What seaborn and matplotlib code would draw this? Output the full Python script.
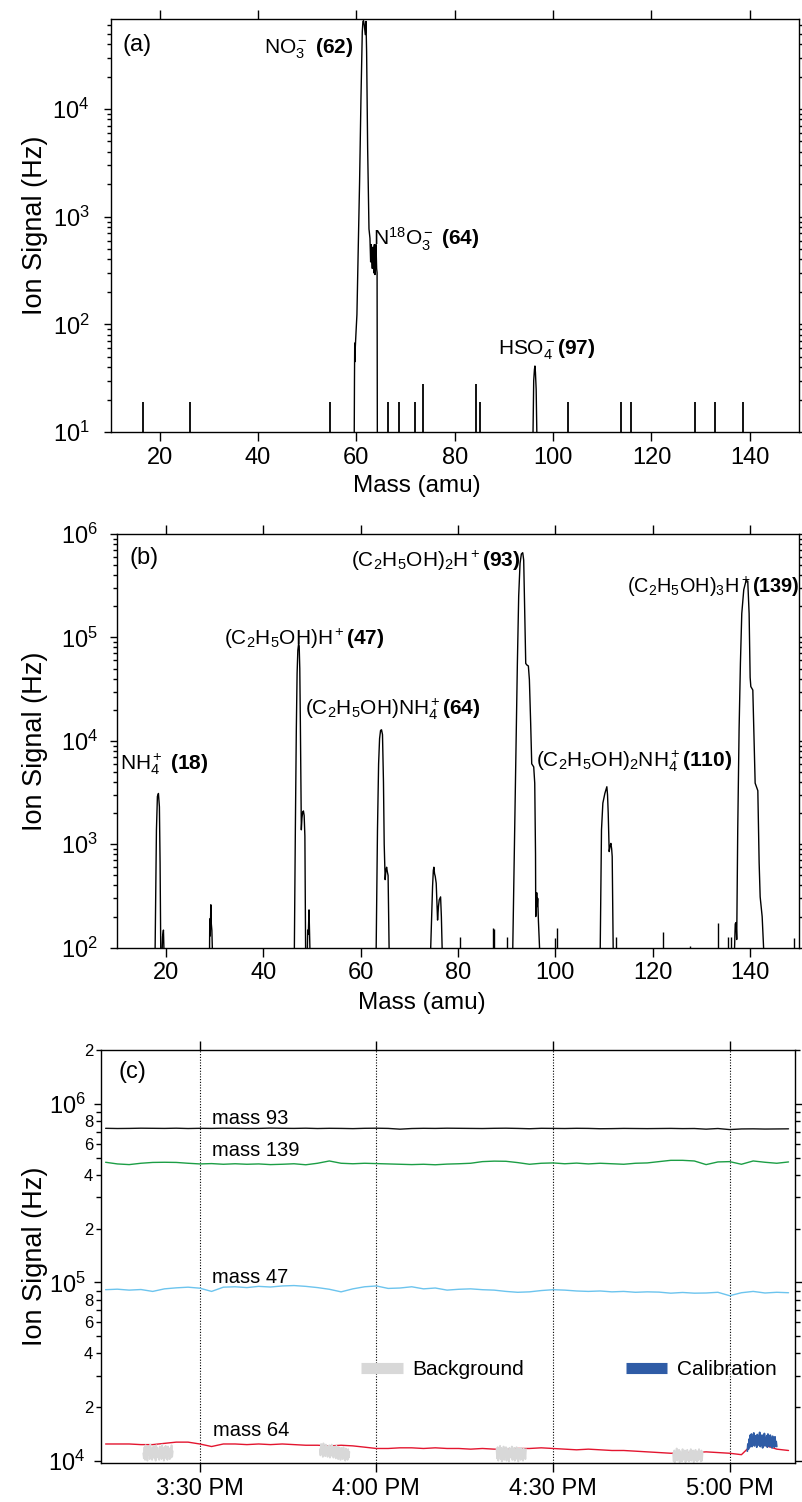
import numpy as np
import pandas as pd
import matplotlib
matplotlib.use("Agg")
import matplotlib.pyplot as plt
import matplotlib.dates as mdates
import matplotlib.ticker as mticker
from matplotlib.lines import Line2D
import seaborn as sns

# ---------------- Panel (a): negative-ion spectrum ----------------
mass_a = [59.55, 59.6, 59.65, 59.7, 59.76, 59.89, 60.1, 60.37, 60.64, 60.92, 61.19, 61.32,
          61.45, 61.6, 61.8, 61.94, 62.07, 62.28, 62.55, 62.75, 62.89, 63.02, 63.1, 63.23,
          63.35, 63.43, 63.55, 63.64, 63.77, 63.9, 63.98, 64.11, 64.2, 64.25,
          95.9, 96.05, 96.2, 96.3, 96.4, 96.55, 96.7]
signal_a = [9, 30, 67, 45, 60, 80, 123, 515, 2100, 12500, 52000, 65000,
            66000, 60000, 49000, 65000, 34000, 4300, 770, 630, 380, 550, 420, 330,
            520, 500, 300, 550, 290, 520, 550, 330, 300, 9,
            9, 30, 38, 41, 36, 25, 9]
stick_mass_a = [16.55, 26.17, 54.7, 66.4, 68.6, 71.95, 73.6, 84.4, 85.1, 103.0, 113.8,
                115.75, 128.9, 132.9, 138.7]
stick_height_a = [19, 19, 19, 19, 19, 19, 28, 28, 19, 19, 19, 19, 19, 19, 19]
base_a = 9

# ---------------- Panel (b): positive-ion spectrum ----------------
mass_b = [17.76, 18.04, 18.24, 18.45, 18.65, 18.79, 18.93,
          19.2, 19.3, 19.48, 19.6,
          28.95, 29.0, 29.1, 29.22, 29.32, 29.43, 29.55,
          46.38, 46.59, 46.79, 46.95, 47.1, 47.25, 47.38, 47.5, 47.62, 47.75, 47.82, 47.95,
          48.1, 48.25, 48.4, 48.55, 48.7,
          49.05, 49.13, 49.25, 49.4, 49.5, 49.6,
          63.19, 63.47, 63.7, 63.9, 64.1, 64.3, 64.5, 64.7, 64.85, 65.05, 65.2, 65.35, 65.5,
          65.65, 65.87,
          74.38, 74.6, 74.79, 74.95, 75.06, 75.2, 75.34, 75.54, 75.65, 75.82, 76.0, 76.16,
          76.3, 76.44, 76.6, 76.78,
          91.26, 91.67, 92.01, 92.22, 92.49, 92.77, 93.04, 93.32, 93.52, 93.73, 93.94, 94.2,
          94.48, 94.69, 94.95, 95.17, 95.58, 95.79, 95.95, 96.0, 96.2, 96.3, 96.4, 96.55, 96.82,
          109.24, 109.51, 109.79, 110.2, 110.45, 110.61, 110.75, 110.89, 111.09, 111.25,
          111.44, 111.6, 111.71, 111.92,
          136.83, 137.0, 137.17, 137.3, 137.51, 137.79, 138.06, 138.34, 138.75, 139.23,
          139.57, 139.85, 140.06, 140.2, 140.61, 140.81, 141.09, 141.64, 141.91, 142.12,
          142.32, 142.53, 142.87]
signal_b = [90, 1380, 2900, 3100, 2300, 660, 90,
            90, 128, 148, 90,
            90, 190, 130, 260, 170, 148, 90,
            90, 1380, 13000, 45000, 75000, 86000, 82000, 50000, 15000, 3000, 1380, 1800,
            2050, 2100, 1900, 1200, 90,
            90, 148, 135, 232, 150, 90,
            90, 1380, 6000, 10500, 12600, 12800, 11500, 4000, 1000, 455, 560, 600, 540,
            500, 90,
            90, 200, 390, 560, 600, 520, 490, 420, 300, 185, 250, 290,
            300, 310, 200, 90,
            90, 1380, 13000, 56000, 250000, 520000, 640000, 660000, 560000, 170000, 56000, 54000,
            53000, 39000, 15000, 6000, 5600, 3900, 800, 200, 340, 250, 300, 180, 90,
            90, 1380, 2500, 3100, 3400, 3600, 3000, 2000, 850, 950,
            1020, 900, 760, 90,
            90, 170, 175, 120, 1380, 13000, 56000, 170000, 290000, 355000,
            350000, 170000, 41000, 33500, 31000, 13000, 3900, 3300, 660, 310,
            250, 200, 90]
stick_mass_b = [80.35, 87.3, 87.45, 90.16, 100.05, 100.46, 112.47, 122.2, 127.6, 133.53,
                135.6, 136.1, 149.0]
stick_height_b = [128, 155, 150, 128, 125, 155, 128, 143, 105, 173, 128, 128, 125]
base_b = 90

# ---------------- Panel (c): time series ----------------
t_minutes = list(range(14, 131, 2))  # minutes after 15:00
mass93 = [7.32, 7.30, 7.31, 7.33, 7.32, 7.31, 7.33, 7.30, 7.32, 7.31,
          7.33, 7.32, 7.30, 7.31, 7.34, 7.32, 7.31, 7.33, 7.30, 7.32,
          7.31, 7.29, 7.32, 7.33, 7.31, 7.24, 7.30, 7.32, 7.31, 7.33,
          7.32, 7.31, 7.30, 7.32, 7.33, 7.31, 7.28, 7.32, 7.31, 7.30,
          7.32, 7.31, 7.28, 7.29, 7.31, 7.30, 7.29, 7.30, 7.31, 7.29,
          7.30, 7.24, 7.30, 7.20, 7.26, 7.27, 7.25, 7.26, 7.27]
mass139 = [4.72, 4.62, 4.58, 4.66, 4.71, 4.72, 4.71, 4.66, 4.62, 4.64,
           4.60, 4.63, 4.60, 4.62, 4.58, 4.60, 4.63, 4.57, 4.66, 4.80,
           4.66, 4.63, 4.66, 4.64, 4.62, 4.60, 4.58, 4.60, 4.57, 4.61,
           4.63, 4.66, 4.76, 4.79, 4.78, 4.70, 4.60, 4.66, 4.68, 4.63,
           4.67, 4.62, 4.66, 4.63, 4.60, 4.66, 4.68, 4.76, 4.84, 4.84,
           4.80, 4.58, 4.74, 4.76, 4.60, 4.80, 4.72, 4.66, 4.74]
mass47 = [9.10, 9.16, 9.05, 9.12, 8.90, 9.20, 9.32, 9.40, 9.28, 8.90,
          9.40, 9.45, 9.35, 9.50, 9.42, 9.55, 9.60, 9.50, 9.35, 9.15,
          8.85, 9.20, 9.45, 9.55, 9.25, 9.30, 9.45, 9.20, 9.30, 9.05,
          9.15, 9.20, 9.10, 9.05, 8.90, 8.80, 8.85, 9.00, 9.10, 9.05,
          8.95, 8.90, 8.95, 8.85, 8.90, 8.80, 8.85, 8.82, 8.70, 8.78,
          8.70, 8.72, 8.80, 8.42, 8.75, 8.90, 8.72, 8.80, 8.75]
mass64 = [1.24, 1.24, 1.24, 1.23, 1.23, 1.25, 1.27, 1.27, 1.24, 1.20,
          1.24, 1.24, 1.23, 1.24, 1.23, 1.24, 1.23, 1.22, 1.22, 1.21,
          1.22, 1.21, 1.19, 1.17, 1.17, 1.18, 1.18, 1.17, 1.18, 1.17,
          1.17, 1.16, 1.17, 1.16, 1.16, 1.17, 1.17, 1.18, 1.17, 1.16,
          1.15, 1.16, 1.15, 1.14, 1.14, 1.13, 1.12, 1.11, 1.10, 1.10,
          1.11, 1.12, 1.11, 1.10, 1.08, 1.25, 1.22, 1.16, 1.14]

bg_starts = [20.4, 50.4, 80.4, 110.4]      # minutes after 15:00
bg_values = [
    [11.0, 10.3, 11.9, 10.1, 12.2, 10.6, 11.4, 10.0, 12.0, 10.8,
     11.7, 10.2, 12.3, 10.5, 11.6, 10.1, 11.9, 10.7, 12.1, 10.3,
     11.5, 10.0, 12.2, 10.6, 11.8, 10.4, 11.3, 10.1, 12.0, 10.8,
     11.6, 10.2, 12.3, 10.5, 11.4, 10.0, 11.9, 10.7, 12.1, 10.3,
     11.7, 10.1, 12.0, 10.6, 11.5, 10.2, 11.8, 10.4, 12.2, 10.5, 11.3],
    [11.6, 10.7, 12.4, 10.9, 12.0, 10.5, 12.5, 11.1, 11.8, 10.6,
     12.3, 10.9, 12.1, 10.5, 11.9, 11.0, 12.2, 10.4, 11.6, 10.8,
     12.3, 10.6, 11.8, 10.4, 12.0, 11.0, 11.5, 10.3, 12.1, 10.7,
     11.7, 10.2, 11.9, 10.6, 11.4, 10.1, 11.8, 10.5, 11.6, 10.2,
     11.9, 10.4, 11.3, 10.0, 11.7, 10.3, 11.5, 10.1, 11.6, 10.4, 11.2],
    [11.7, 10.3, 11.9, 10.0, 11.5, 10.6, 12.1, 10.2, 11.8, 9.9,
     11.6, 10.7, 12.0, 10.1, 11.4, 10.5, 11.9, 10.0, 11.7, 10.6,
     11.3, 9.9, 11.8, 10.4, 11.6, 10.5, 12.0, 10.1, 11.5, 10.3,
     11.8, 10.0, 11.4, 10.6, 11.9, 10.2, 11.6, 9.9, 11.7, 10.4,
     11.3, 10.1, 11.8, 10.5, 11.5, 10.0, 11.7, 10.3, 11.4, 10.2, 11.6],
    [10.9, 9.9, 11.4, 9.8, 11.2, 10.3, 11.7, 10.0, 11.1, 10.2,
     11.5, 9.8, 11.3, 10.4, 11.0, 9.9, 11.6, 10.1, 11.1, 10.3,
     11.4, 9.8, 11.2, 10.0, 11.5, 10.2, 10.9, 9.9, 11.3, 10.1,
     11.6, 10.0, 11.1, 10.3, 11.4, 9.8, 11.2, 10.2, 11.5, 10.0,
     11.0, 9.9, 11.3, 10.1, 11.6, 10.2, 11.1, 9.9, 11.4, 10.0, 11.2],
]
cal_start = 123.0
cal_values = [11.3, 12.4, 11.6, 13.2, 11.9, 13.9, 12.2, 14.1, 12.0, 13.6,
              12.5, 14.3, 12.1, 13.8, 12.4, 13.5, 11.9, 14.0, 12.6, 13.7,
              12.2, 14.4, 12.0, 13.3, 12.3, 13.9, 11.8, 13.6, 12.5, 14.2,
              12.1, 13.4, 12.4, 13.8, 11.9, 14.1, 12.3, 13.5, 12.0, 13.9,
              12.2, 13.3, 11.8, 13.7, 12.4, 13.1, 11.9, 13.6, 12.1, 12.8, 12.0]
noise_step_min = 0.1

series_labels = ["mass 93", "mass 139", "mass 47", "mass 64"]
series_colors = ["#111111", "#1c9e45", "#6cc4ee", "#e3152f"]
bg_color = "#d8d8d8"
cal_color = "#2f5ca6"

# ---------------- style ----------------
sns.set_theme(style="ticks")
plt.rcParams.update({
    "font.family": ["Liberation Sans", "DejaVu Sans"],
    "mathtext.fontset": "custom",
    "mathtext.rm": "Liberation Sans",
    "mathtext.it": "Liberation Sans:italic",
    "mathtext.bf": "Liberation Sans:bold",
    "mathtext.sf": "Liberation Sans",
    "axes.edgecolor": "black",
    "axes.linewidth": 1.0,
    "xtick.color": "black",
    "ytick.color": "black",
    "text.color": "black",
    "axes.labelcolor": "black",
})

fig = plt.figure(figsize=(8.03, 15.02), dpi=100)
axA = fig.add_axes([0.1377, 0.71238, 0.8573, 0.27477])
axB = fig.add_axes([0.1461, 0.36904, 0.8483, 0.27543])
axC = fig.add_axes([0.12565, 0.02597, 0.86439, 0.27463])

ANN = 15


def common_ticks(ax, ypad=10):
    ax.tick_params(axis="both", which="both", direction="out", top=True, right=True,
                   labeltop=False, labelright=False, width=1)
    ax.tick_params(axis="x", which="major", length=6.5, labelsize=17, pad=4)
    ax.tick_params(axis="y", which="major", length=5, labelsize=17, pad=ypad)
    ax.tick_params(axis="y", which="minor", length=3)


def spectrum_axis(ax, ylim, ypad):
    ax.set_yscale("log")
    ax.set_xlim(10, 150)
    ax.set_ylim(*ylim)
    ax.xaxis.set_major_locator(mticker.MultipleLocator(20))
    ax.xaxis.set_minor_locator(mticker.NullLocator())
    ax.yaxis.set_major_locator(mticker.LogLocator(base=10, numticks=12))
    ax.yaxis.set_minor_locator(mticker.LogLocator(base=10, subs=np.arange(2, 10), numticks=12))
    ax.yaxis.set_minor_formatter(mticker.NullFormatter())
    common_ticks(ax, ypad)
    ax.set_xlabel("Mass (amu)", fontsize=17.5)
    ax.set_ylabel("Ion Signal (Hz)", fontsize=19.5)


# ---------------- Panel (a) ----------------
spectrum_axis(axA, (10, 6.8e4), 10)
sns.lineplot(x=mass_a, y=signal_a, ax=axA, color="black", lw=1.0, estimator=None, sort=False)
axA.vlines(stick_mass_a, base_a, stick_height_a, color="black", lw=1.3)
axA.xaxis.set_label_coords(0.445, -0.105)
axA.yaxis.set_label_coords(-0.091, 0.5)
axA.text(0.0166, 0.938, "(a)", transform=axA.transAxes, fontsize=17, va="center")
axA.text(59.3, 3.28e4, r"NO$_3^-$ $\mathbf{(62)}$", fontsize=ANN, ha="right", va="baseline")
axA.text(63.37, 545, r"N$^{18}$O$_3^-$ $\mathbf{(64)}$", fontsize=ANN, ha="left", va="baseline")
axA.text(88.7, 53, r"HSO$_4^-$$\mathbf{(97)}$", fontsize=ANN, ha="left", va="baseline")

# ---------------- Panel (b) ----------------
spectrum_axis(axB, (100, 1e6), 9)
sns.lineplot(x=mass_b, y=signal_b, ax=axB, color="black", lw=1.0, estimator=None, sort=False)
axB.vlines(stick_mass_b, base_b, stick_height_b, color="black", lw=1.0)
axB.xaxis.set_label_coords(0.447, -0.107)
axB.yaxis.set_label_coords(-0.1017, 0.5)
axB.text(0.0186, 0.942, "(b)", transform=axB.transAxes, fontsize=17, va="center")
axB.text(10.56, 5240, r"NH$_4^+$ $\mathbf{(18)}$", fontsize=ANN, va="baseline")
axB.text(31.83, 8.46e4, r"(C$_2$H$_5$OH)H$^+$$\mathbf{(47)}$", fontsize=ANN, va="baseline")
axB.text(48.65, 1.81e4, r"(C$_2$H$_5$OH)NH$_4^+$$\mathbf{(64)}$", fontsize=ANN, va="baseline")
axB.text(58.05, 4.84e5, r"(C$_2$H$_5$OH)$_2$H$^+$$\mathbf{(93)}$", fontsize=ANN, va="baseline")
axB.text(96.0, 5620, r"(C$_2$H$_5$OH)$_2$NH$_4^+$$\mathbf{(110)}$", fontsize=ANN, va="baseline")
axB.text(150.2, 2.71e5, r"(C$_2$H$_5$OH)$_3$H$^+$$\mathbf{(139)}$", fontsize=14.3,
         ha="right", va="baseline", clip_on=False)

# ---------------- Panel (c) ----------------
t0 = pd.Timestamp("2010-06-01 15:00")
times = t0 + pd.to_timedelta(t_minutes, unit="m")
ts = pd.DataFrame({"time": times, "mass 93": np.array(mass93) * 1e5,
                   "mass 139": np.array(mass139) * 1e5, "mass 47": np.array(mass47) * 1e4,
                   "mass 64": np.array(mass64) * 1e4})
long = ts.melt(id_vars="time", var_name="series", value_name="signal")

axC.set_yscale("log")
sns.lineplot(data=long, x="time", y="signal", hue="series", hue_order=series_labels,
             palette=series_colors, ax=axC, lw=1.0, estimator=None, legend=False)

for start, vals in zip(bg_starts, bg_values):
    tt = t0 + pd.to_timedelta(start + np.arange(len(vals)) * noise_step_min, unit="m")
    sns.lineplot(x=tt, y=np.array(vals) * 1e3, ax=axC, color=bg_color, lw=1.3,
                 estimator=None, sort=False)
tt = t0 + pd.to_timedelta(cal_start + np.arange(len(cal_values)) * noise_step_min, unit="m")
sns.lineplot(x=tt, y=np.array(cal_values) * 1e3, ax=axC, color=cal_color, lw=1.3,
             estimator=None, sort=False)

axC.set_ylim(9.7e3, 2e6)
axC.set_xlim(t0 + pd.Timedelta(minutes=13.2), t0 + pd.Timedelta(minutes=131.1))
axC.xaxis.set_major_locator(mdates.MinuteLocator(byminute=[0, 30]))
axC.xaxis.set_major_formatter(mdates.DateFormatter("%-I:%M %p"))
axC.xaxis.set_minor_locator(mticker.NullLocator())
axC.yaxis.set_major_locator(mticker.LogLocator(base=10, numticks=12))
axC.yaxis.set_minor_locator(mticker.LogLocator(base=10, subs=np.arange(2, 10), numticks=12))


def minor_fmt(v, pos):
    m = v / 10 ** np.floor(np.log10(v) + 1e-9)
    r = int(round(m))
    return str(r) if r in (2, 4, 6, 8) and abs(m - r) < 0.01 else ""


axC.yaxis.set_minor_formatter(mticker.FuncFormatter(minor_fmt))
common_ticks(axC, 6)
axC.tick_params(axis="x", which="major", labelsize=17, pad=4)
axC.tick_params(axis="y", which="minor", length=3.5, labelsize=12, pad=2)
axC.grid(axis="x", which="major", linestyle=(0, (1, 1.5)), color="black", lw=0.8)
axC.grid(axis="y", visible=False)
axC.set_xlabel("")
axC.set_ylabel("Ion Signal (Hz)", fontsize=19.5)
axC.yaxis.set_label_coords(-0.0762, 0.5)
axC.text(0.025, 0.948, "(c)", transform=axC.transAxes, fontsize=17, va="center")

lab_time = [32.1, 32.1, 32.0, 32.3]
lab_val = [7.71e5, 5.12e5, 9.9e4, 1.37e4]
for name, tm, v in zip(series_labels, lab_time, lab_val):
    axC.text(t0 + pd.Timedelta(minutes=tm), v, name, fontsize=14.5, va="baseline")

handles = [Line2D([], [], color=bg_color, lw=8, solid_capstyle="butt"),
           Line2D([], [], color=cal_color, lw=8, solid_capstyle="butt")]
axC.legend(handles, ["Background", "Calibration"], loc="center",
           bbox_to_anchor=(0.674, 0.2255), ncol=2, frameon=False, fontsize=15,
           handlelength=2.0, handletextpad=0.45, columnspacing=4.9)

fig.savefig("out.png", dpi=100)
